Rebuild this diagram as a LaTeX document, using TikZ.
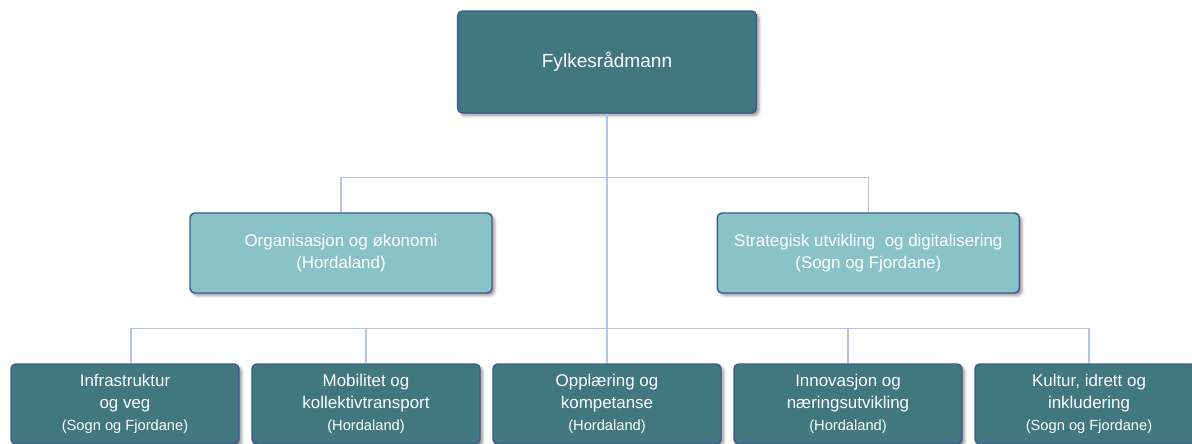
\documentclass[tikz,border=0pt]{standalone}
\usepackage{fontspec}
\setmainfont{Liberation Sans}
\usetikzlibrary{shapes,arrows,shadows.blur}

\definecolor{tealdark}{RGB}{65,120,128}
\definecolor{teallight}{RGB}{138,195,199}
\definecolor{boxedge}{RGB}{62,90,140}
\definecolor{orgline}{RGB}{185,196,228}
\newcommand{\region}[1]{{\fontsize{11}{16.5}\selectfont #1}}

\begin{document}
\begin{tikzpicture}[node distance = 143.25pt, auto]
    % Define block styles
    \tikzstyle{block} = [rectangle, draw=boxedge, line width=1.1pt, fill=tealdark,
        text=white, align=center, rounded corners=3.5pt,
        blur shadow={shadow xshift=2pt, shadow yshift=-2pt, shadow opacity=40}]
    \tikzstyle{topblock} = [block, minimum width=224pt, minimum height=76.5pt,
        font=\fontsize{14.3}{17}\selectfont]
    \tikzstyle{midblock} = [block, fill=teallight, minimum width=226.5pt,
        minimum height=60pt, font=\fontsize{12.7}{16}\selectfont]
    \tikzstyle{unitblock} = [block, minimum width=171pt, minimum height=60pt,
        font=\fontsize{12.7}{16.5}\selectfont]
    \tikzstyle{line} = [draw=orgline, line width=1pt]

    \useasboundingbox (0,0) rectangle (894pt,-332.25pt);

    % Top level
    \node [topblock] at (455.25pt,-46.5pt) (fylke) {Fylkesrådmann};

    % Staff units
    \node [midblock, below of=fylke, xshift=-199.5pt] (orgokon) {Organisasjon og økonomi\\(Hordaland)};
    \node [midblock, below of=fylke, xshift=196pt] (strategi) {Strategisk utvikling\ \ og digitalisering\\(Sogn og Fjordane)};

    % Departments
    \node [unitblock, below of=fylke, node distance=256.5pt] (opplaering) {Opplæring og\\kompetanse\\\region{(Hordaland)}};
    \node [unitblock, left of=opplaering, node distance=180.75pt] (mobilitet) {Mobilitet og\\kollektivtransport\\\region{(Hordaland)}};
    \node [unitblock, left of=mobilitet, node distance=180.75pt] (infra) {Infrastruktur\\og veg\\\region{(Sogn og Fjordane)}};
    \node [unitblock, right of=opplaering, node distance=180.75pt] (innovasjon) {Innovasjon og\\næringsutvikling\\\region{(Hordaland)}};
    \node [unitblock, right of=innovasjon, node distance=180.75pt] (kultur) {Kultur, idrett og\\inkludering\\\region{(Sogn og Fjordane)}};

    % Connector paths
    \coordinate (busstab) at ([yshift=26.25pt]orgokon.north);
    \coordinate (busavd) at ([yshift=26.25pt]opplaering.north);
    \path [line] (fylke.south) -- (opplaering.north);
    \path [line] (orgokon.north) -- (busstab) -| (strategi.north);
    \path [line] ([xshift=4.5pt]infra.north) -- ([xshift=4.5pt]infra.north |- busavd) -| (kultur.north);
    \path [line] (mobilitet.north) -- (mobilitet.north |- busavd);
    \path [line] (innovasjon.north) -- (innovasjon.north |- busavd);

\end{tikzpicture}
\end{document}
